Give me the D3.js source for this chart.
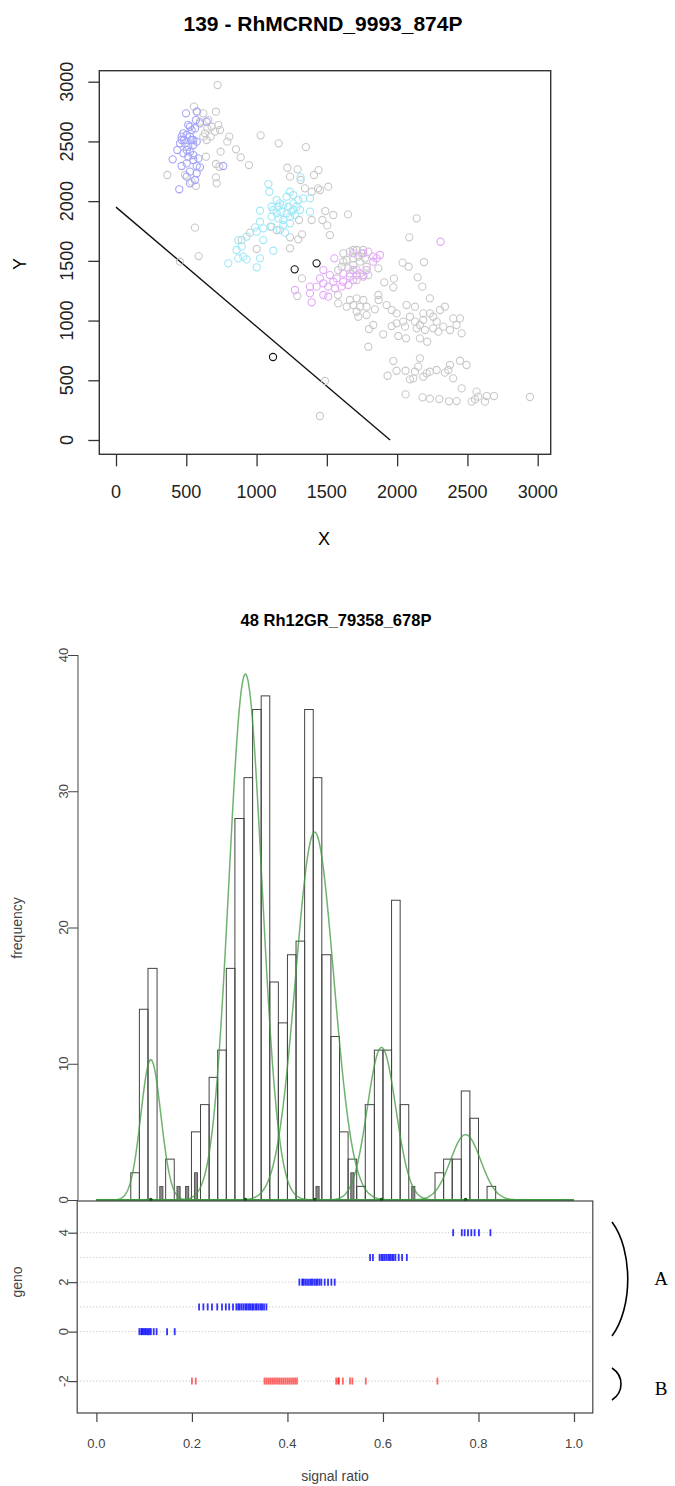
<!DOCTYPE html>
<html lang="en">
<head>
<meta charset="utf-8">
<title>Cluster plot and signal ratio histogram</title>
<script src="https://d3js.org/d3.v7.min.js"></script>
<style>
  body { margin: 0; background: #fff; }
  svg text { font-family: "Liberation Sans", Arial, Helvetica, sans-serif; }
  .serif { font-family: "Liberation Serif", "Times New Roman", serif; }
</style>
</head>
<body>
<script>
// ---------- top panel: X/Y intensity scatter ----------
const scatterTicks = [0, 500, 1000, 1500, 2000, 2500, 3000];

const grayPts = [
  [723,2972],[555,2791],[578,2749],[621,2735],[711,2749],[657,2679],[728,2637],[740,2595],[704,2582],[650,2609],
  [621,2540],[645,2512],[806,2540],[792,2498],[744,2414],[640,2372],[853,2434],[887,2367],[946,2302],[711,2311],
  [735,2288],[711,2199],[716,2149],[365,2219],[569,2127],[491,2219],[538,2163],[597,2665],[680,2623],[633,2568],
  [673,2540],[1029,2551],[1157,2484],[1351,2453],[1219,2280],[1292,2266],[1441,2260],[1238,2205],[1313,2177],[1408,2219],
  [1510,2121],[1451,2093],[1392,2079],[1437,2107],[1344,2107],[1489,1917],[1546,1884],[1650,1889],[1392,1842],[1468,1842],
  [1503,1797],[1522,1716],[1302,1842],[1323,1722],[1238,1697],[1297,1680],[1238,1605],[1001,1599],[953,1736],[894,1674],
  [562,1778],[588,1540],[455,1493],[1100,1786],[1143,1758],[2139,1856],[2086,1697],[2039,1485],[2082,1451],[2191,1490],
  [2146,1362],[2179,1284],[1977,1351],[1973,1278],[1909,1320],[2233,1186],
  [1617,1563],[1664,1577],[1712,1591],[1747,1563],[1688,1521],[1641,1507],[1736,1493],[1783,1451],[1712,1423],[1664,1395],
  [1759,1381],[1795,1381],[1605,1451],[1581,1423],[1688,1465],[1724,1535],[1771,1521],[1653,1437],[1866,1437],[1712,1339],
  [1617,1493],[1759,1591],[1688,1591],
  [1323,1353],[1290,1206],[1579,1214],[1581,1144],
  [1664,1172],[1712,1186],[1759,1172],[1688,1130],[1736,1116],[1783,1116],[1641,1116],[1712,1074],[1724,1032],[1783,1046],
  [1842,1094],[1866,1214],[1868,1172],[1925,1130],[1830,963],[1800,929],[1901,885],[1795,781],
  [1961,1088],[1996,1060],[2067,1130],[2127,1116],[2091,1032],[2043,991],[1996,977],[1961,954],[2056,949],[2127,991],
  [2162,963],[2186,1005],[2233,1060],[2257,1032],[2305,1088],[2340,1116],[2281,991],[2328,949],[2198,921],[2139,935],
  [2257,935],[2399,1018],[2447,1018],[2423,963],[2459,893],[2376,921],[2008,871],[2063,851],[2162,851],[2214,823],
  [2293,907],[2186,1060],
  [1973,661],[1932,538],[1996,580],[2060,580],[2127,572],[2162,684],[2150,614],[2210,558],[2233,572],[2281,586],
  [2376,628],[2364,586],[2340,564],[2399,516],[2447,664],[2494,628],[2459,432],[2186,530],[2091,508],[2115,516],
  [2060,382],[2181,357],[2233,346],[2300,343],[2369,324],[2423,326],[2530,321],[2554,340],[2565,405],[2577,363],
  [2637,368],[2689,368],[2625,321],[2945,360],[1487,494],[1451,201]
];

const bluePts = [
  [498,2735],[574,2749],[645,2665],[597,2651],[479,2568],[503,2554],[526,2540],[550,2512],[484,2512],[455,2484],
  [514,2456],[550,2470],[574,2498],[526,2414],[479,2400],[436,2428],[403,2350],[467,2294],[503,2316],[550,2344],
  [574,2294],[597,2283],[526,2247],[574,2233],[526,2149],[450,2099],[763,2294],[538,2595],[562,2609],[514,2637],
  [467,2540],[491,2484],[586,2358],[550,2386],[514,2372],[503,2205],[562,2177],[526,2623],[569,2679],[467,2512],
  [538,2512],[503,2428]
];

const cyanPts = [
  [1084,2143],[1091,2079],[1238,2079],[1214,2037],[1261,2051],[1313,2199],[1143,2009],[1166,1981],[1190,1967],[1226,1953],
  [1261,1981],[1285,1953],[1297,2009],[1332,2023],[1380,2023],[1119,1926],[1143,1898],[1178,1912],[1214,1898],[1249,1912],
  [1107,1870],[1155,1856],[1190,1842],[1238,1870],[1273,1884],[1309,1926],[1380,1912],[1024,1920],[1024,1828],[989,1780],
  [1048,1772],[1107,1786],[1166,1758],[1202,1736],[929,1702],[870,1674],[894,1619],[858,1591],[906,1535],[799,1479],
  [870,1521],[929,1512],[1001,1446],[1024,1521],[1048,1674],[1119,1585],[1001,1744],[1190,1800],[1238,1814],[1155,1953],
  [1107,1953],[1261,1926]
];

const pinkPts = [
  [1553,1521],[2309,1660],[1878,1549],[1830,1535],[1795,1577],[1759,1563],[1688,1563],[1475,1423],[1522,1381],[1570,1353],
  [1617,1395],[1664,1368],[1712,1381],[1759,1368],[1783,1423],[1830,1493],[1475,1312],[1427,1284],[1380,1284],[1510,1284],
  [1558,1270],[1605,1284],[1653,1298],[1688,1339],[1273,1256],[1380,1228],[1475,1214],[1510,1200],[1392,1153],[1736,1395],
  [1617,1325],[1546,1325],[1451,1353],[1688,1423],[1854,1521]
];

const blackPts = [[1271,1429],[1427,1479],[1117,695]];

const lineX = [0, 1950];
const lineY = [1950, 0];

// ---------- bottom panel: signal ratio histogram + genotype rug ----------
const histBreaks = [0.072,0.090,0.108,0.127,0.145,0.163,0.181,0.199,0.218,0.236,0.254,0.272,0.290,0.309,0.327,
  0.345,0.363,0.381,0.400,0.418,0.436,0.454,0.472,0.491,0.509,0.527,0.545,0.563,0.582,0.600,0.618,0.636,0.654,
  0.673,0.691,0.709,0.727,0.745,0.764,0.782,0.800,0.818,0.836];
const histCounts = [2,14,17,0,3,0,0,5,7,9,11,17,28,31,36,37,16,13,18,19,36,31,18,12,5,3,1,7,11,11,22,7,0,0,0,2,3,3,8,6,0,1];
// small filled bars (bin index, count)
const smallBins = [3,5,6,7,21,25,32];
const smallCounts = [1,1,1,2,1,2,1];

// fitted normal components
const compMeans = [0.114, 0.312, 0.457, 0.597, 0.773];
const compSds = [0.021, 0.0345, 0.040, 0.0297, 0.0316];
const compPeaks = [10.3, 38.6, 27.0, 11.2, 4.8];

const freqTicks = [0, 10, 20, 30, 40];
const ratioTicks = [0, 0.2, 0.4, 0.6, 0.8, 1.0];
const genoTicks = [4, 2, 0, -2];
const genoLines = [4, 3, 2, 1, 0, -2];

const rugGeno4 = [0.747,0.765,0.771,0.778,0.785,0.792,0.801,0.825];
const rugGeno3 = [0.573,0.579,0.593,0.597,0.600,0.604,0.608,0.612,0.615,0.619,0.622,0.626,0.633,0.640,0.650];
const rugGeno2 = [0.425,0.431,0.433,0.437,0.441,0.445,0.449,0.452,0.456,0.460,0.463,0.467,0.471,0.478,0.485,0.492,0.499];
const rugGeno1 = [0.215,0.224,0.233,0.242,0.253,0.263,0.271,0.278,0.286,0.293,0.297,0.300,0.304,0.308,0.312,0.315,
  0.319,0.322,0.326,0.329,0.333,0.336,0.340,0.344,0.347,0.351,0.356];
const rugGeno0 = [0.090,0.094,0.096,0.099,0.102,0.105,0.108,0.111,0.114,0.120,0.126,0.148,0.164];
const rugGenoM2 = [0.200,0.208,0.352,0.356,0.360,0.364,0.368,0.372,0.376,0.380,0.384,0.388,0.392,0.396,0.400,0.404,
  0.408,0.412,0.416,0.420,0.502,0.506,0.508,0.516,0.531,0.536,0.564,0.714];

// ================= drawing =================
const svg = d3.select("body").append("svg")
  .attr("width", 675)
  .attr("height", 1486);

// ----- top scatter -----
const sx = d3.scaleLinear().domain([0, 3000]).range([116, 537.7]);
const sy = d3.scaleLinear().domain([0, 3000]).range([440, 81.7]);

svg.append("text")
  .attr("x", 323).attr("y", 31)
  .attr("text-anchor", "middle")
  .attr("font-size", 21).attr("font-weight", "bold")
  .text("139 - RhMCRND_9993_874P");

svg.append("rect")
  .attr("x", 99.3).attr("y", 70.7)
  .attr("width", 451.4).attr("height", 383.6)
  .attr("fill", "none").attr("stroke", "#333").attr("stroke-width", 1.4);

// x axis ticks
svg.append("g")
  .attr("transform", "translate(0,454.3)")
  .call(d3.axisBottom(sx).tickValues(scatterTicks).tickSize(12).tickFormat(""))
  .call(g => g.select(".domain").remove())
  .call(g => g.selectAll("line").attr("stroke", "#333").attr("stroke-width", 1.3));

svg.append("g").selectAll("text")
  .data(scatterTicks).enter().append("text")
  .attr("x", d => sx(d)).attr("y", 498)
  .attr("text-anchor", "middle").attr("font-size", 18).attr("fill", "#222")
  .text(d => d);

// y axis ticks
svg.append("g")
  .attr("transform", "translate(99.3,0)")
  .call(d3.axisLeft(sy).tickValues(scatterTicks).tickSize(11).tickFormat(""))
  .call(g => g.select(".domain").remove())
  .call(g => g.selectAll("line").attr("stroke", "#333").attr("stroke-width", 1.3));

svg.append("g").selectAll("text")
  .data(scatterTicks).enter().append("text")
  .attr("transform", d => "translate(73," + sy(d) + ") rotate(-90)")
  .attr("text-anchor", "middle").attr("font-size", 18).attr("fill", "#222")
  .text(d => d);

svg.append("text")
  .attr("x", 324).attr("y", 545)
  .attr("text-anchor", "middle").attr("font-size", 18)
  .text("X");
svg.append("text")
  .attr("transform", "translate(26,264) rotate(-90)")
  .attr("text-anchor", "middle").attr("font-size", 18)
  .text("Y");

// separating line
svg.append("line")
  .attr("x1", sx(lineX[0])).attr("y1", sy(lineY[0]))
  .attr("x2", sx(lineX[1])).attr("y2", sy(lineY[1]))
  .attr("stroke", "#111").attr("stroke-width", 1.4);

function drawPoints(data, colour) {
  svg.append("g").selectAll("circle")
    .data(data).enter().append("circle")
    .attr("cx", d => sx(d[0]))
    .attr("cy", d => sy(d[1]))
    .attr("r", 3.6)
    .attr("fill", "none")
    .attr("stroke", colour)
    .attr("stroke-width", 1.1);
}
drawPoints(grayPts, "#c9c9c9");
drawPoints(bluePts, "#a4a4fa");
drawPoints(cyanPts, "#a0e8f6");
drawPoints(pinkPts, "#e2aaf6");
drawPoints(blackPts, "#111");

// ----- bottom histogram -----
const hx = d3.scaleLinear().domain([0, 1]).range([96.4, 574]);
const hy = d3.scaleLinear().domain([0, 40]).range([1200, 655]);
const gy = d3.scaleLinear().domain([-2, 4]).range([1381.1, 1232.7]);

svg.append("text")
  .attr("x", 336).attr("y", 626)
  .attr("text-anchor", "middle")
  .attr("font-size", 16.5).attr("font-weight", "bold")
  .text("48 Rh12GR_79358_678P");

// frequency axis
svg.append("g")
  .attr("transform", "translate(78,0)")
  .call(d3.axisLeft(hy).tickValues(freqTicks).tickSize(10).tickFormat(""))
  .call(g => g.select(".domain").attr("stroke", "#444").attr("d", "M0," + hy(40) + "V" + hy(0)))
  .call(g => g.selectAll("line").attr("stroke", "#444"));

svg.append("g").selectAll("text")
  .data(freqTicks).enter().append("text")
  .attr("transform", d => "translate(68," + hy(d) + ") rotate(-90)")
  .attr("text-anchor", "middle").attr("font-size", 13).attr("fill", "#444")
  .text(d => d);

svg.append("text")
  .attr("transform", "translate(22,928) rotate(-90)")
  .attr("text-anchor", "middle").attr("font-size", 14).attr("fill", "#444")
  .text("frequency");

// bars
const bins = histCounts.map((c, i) => ({ x0: histBreaks[i], x1: histBreaks[i + 1], n: c }));
svg.append("g").selectAll("rect")
  .data(bins).enter().append("rect")
  .attr("x", d => hx(d.x0))
  .attr("y", d => hy(d.n))
  .attr("width", d => hx(d.x1) - hx(d.x0))
  .attr("height", d => hy(0) - hy(d.n))
  .attr("fill", "none")
  .attr("stroke", "#444")
  .attr("stroke-width", 1);

const small = smallBins.map((b, i) => ({ mid: (histBreaks[b] + histBreaks[b + 1]) / 2, n: smallCounts[i] }));
svg.append("g").selectAll("rect")
  .data(small).enter().append("rect")
  .attr("x", d => hx(d.mid) - 1.6)
  .attr("y", d => hy(d.n))
  .attr("width", 3.2)
  .attr("height", d => hy(0) - hy(d.n))
  .attr("fill", "#888")
  .attr("stroke", "#444")
  .attr("stroke-width", 0.8);

// baseline
svg.append("line")
  .attr("x1", hx(0)).attr("x2", hx(1))
  .attr("y1", hy(0)).attr("y2", hy(0))
  .attr("stroke", "#3d5a3d").attr("stroke-width", 1.3);

// normal component curves
const gridX = d3.range(0, 1.0001, 0.002);
const curve = d3.line().x(d => hx(d[0])).y(d => hy(d[1]));
compMeans.forEach((m, i) => {
  const pts = gridX.map(x => [x, compPeaks[i] * Math.exp(-0.5 * Math.pow((x - m) / compSds[i], 2))]);
  svg.append("path")
    .attr("d", curve(pts))
    .attr("fill", "none")
    .attr("stroke", "#3f9a3f")
    .attr("stroke-opacity", 0.75)
    .attr("stroke-width", 1.5);
});
svg.append("g").selectAll("circle")
  .data(compMeans).enter().append("circle")
  .attr("cx", d => hx(d)).attr("cy", hy(0) - 0.5)
  .attr("r", 1.8)
  .attr("fill", "#0b5a0b");

// genotype panel box
svg.append("rect")
  .attr("x", 77.2).attr("y", 1201)
  .attr("width", 515.6).attr("height", 212)
  .attr("fill", "none").attr("stroke", "#444").attr("stroke-width", 1.2);

svg.append("g").selectAll("line")
  .data(genoLines).enter().append("line")
  .attr("x1", 80).attr("x2", 591)
  .attr("y1", d => gy(d)).attr("y2", d => gy(d))
  .attr("stroke", "#c8c8c8").attr("stroke-width", 1)
  .attr("stroke-dasharray", "1.2,2");

svg.append("g")
  .attr("transform", "translate(77.2,0)")
  .call(d3.axisLeft(gy).tickValues(genoTicks).tickSize(9).tickFormat(""))
  .call(g => g.select(".domain").remove())
  .call(g => g.selectAll("line").attr("stroke", "#444").attr("stroke-width", 1.2));

svg.append("g").selectAll("text")
  .data(genoTicks).enter().append("text")
  .attr("transform", d => "translate(68," + gy(d) + ") rotate(-90)")
  .attr("text-anchor", "middle").attr("font-size", 13).attr("fill", "#444")
  .text(d => d);

svg.append("text")
  .attr("transform", "translate(22,1282) rotate(-90)")
  .attr("text-anchor", "middle").attr("font-size", 14).attr("fill", "#444")
  .text("geno");

// rug marks
function drawRug(vals, g, colour, op) {
  svg.append("g").selectAll("line")
    .data(vals).enter().append("line")
    .attr("x1", d => hx(d)).attr("x2", d => hx(d))
    .attr("y1", gy(g) - 3.5).attr("y2", gy(g) + 3.5)
    .attr("stroke", colour)
    .attr("stroke-opacity", op)
    .attr("stroke-width", 1.8);
}
drawRug(rugGeno4, 4, "#0000ff", 0.8);
drawRug(rugGeno3, 3, "#0000ff", 0.8);
drawRug(rugGeno2, 2, "#0000ff", 0.8);
drawRug(rugGeno1, 1, "#0000ff", 0.8);
drawRug(rugGeno0, 0, "#0000ff", 0.8);
drawRug(rugGenoM2, -2, "#ff0000", 0.6);

// signal ratio axis
svg.append("g")
  .attr("transform", "translate(0,1413)")
  .call(d3.axisBottom(hx).tickValues(ratioTicks).tickSize(9).tickFormat(""))
  .call(g => g.select(".domain").remove())
  .call(g => g.selectAll("line").attr("stroke", "#444").attr("stroke-width", 1.2));

svg.append("g").selectAll("text")
  .data(ratioTicks).enter().append("text")
  .attr("x", d => hx(d)).attr("y", 1448)
  .attr("text-anchor", "middle").attr("font-size", 13).attr("fill", "#444")
  .text(d => d3.format(".1f")(d));

svg.append("text")
  .attr("x", 335).attr("y", 1481)
  .attr("text-anchor", "middle").attr("font-size", 14).attr("fill", "#444")
  .text("signal ratio");

// annotation brackets
svg.append("path")
  .attr("d", "M612,1222 C633,1250 633,1308 612,1336")
  .attr("fill", "none").attr("stroke", "#000").attr("stroke-width", 1.6);
svg.append("path")
  .attr("d", "M612,1368 C624,1376 624,1392 612,1400")
  .attr("fill", "none").attr("stroke", "#000").attr("stroke-width", 1.6);
svg.append("text").attr("class", "serif")
  .attr("x", 661).attr("y", 1285)
  .attr("text-anchor", "middle").attr("font-size", 19)
  .text("A");
svg.append("text").attr("class", "serif")
  .attr("x", 661).attr("y", 1395)
  .attr("text-anchor", "middle").attr("font-size", 19)
  .text("B");
</script>
</body>
</html>
